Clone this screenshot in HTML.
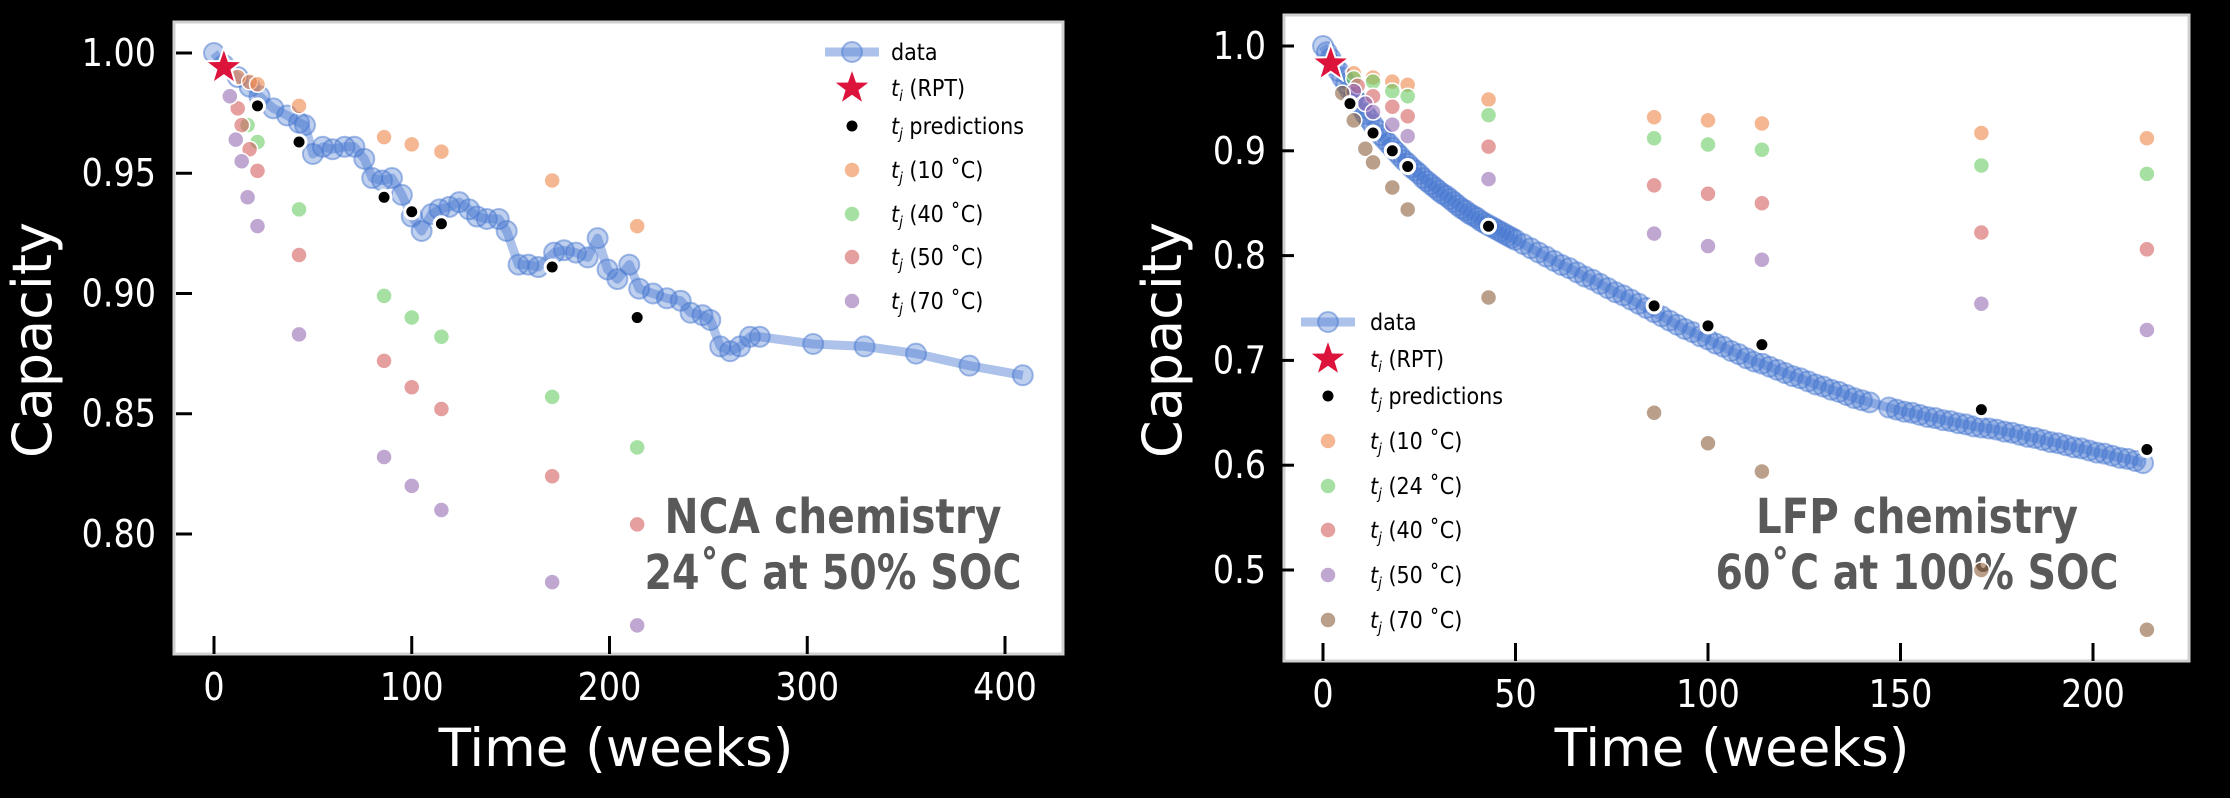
<!DOCTYPE html>
<html><head><meta charset="utf-8"><style>
html,body{margin:0;padding:0;background:#000;}
svg{display:block;}
text{font-family:"DejaVu Sans","Liberation Sans",sans-serif;}
</style></head>
<body>
<svg id="fig" width="2230" height="798" viewBox="0 0 2230 798" xmlns="http://www.w3.org/2000/svg">
<rect width="2230" height="798" fill="#000"/>
</svg>
<script>
// ---------- NCA data ----------
const ncaWeeks=[0,5,12,18,23,30,37,43,46,50,55,60,66,71,76,80,85,90,95,100,105,110,114,119,124,129,133,138,144,148,154,159,164,172,177,183,189,194,199,204,210,215,222,229,236,241,247,251,256,261,266,271,276,303,329,355,382,409];
const ncaCap=[1.0,0.995,0.99,0.986,0.982,0.977,0.974,0.971,0.970,0.958,0.961,0.960,0.961,0.961,0.956,0.948,0.947,0.948,0.941,0.932,0.926,0.933,0.935,0.936,0.938,0.935,0.932,0.931,0.931,0.926,0.912,0.912,0.911,0.917,0.918,0.917,0.915,0.923,0.910,0.906,0.912,0.902,0.900,0.898,0.897,0.892,0.891,0.889,0.878,0.876,0.878,0.882,0.882,0.879,0.878,0.875,0.870,0.866];
const ncaPredW=[22,43,86,100,115,171,214];
const ncaPredV=[0.978,0.963,0.940,0.934,0.929,0.911,0.890];
const ncaStar=[5,0.994];
const nca10W=[12,18,22,43,86,100,115,171,214];
const nca10V=[0.990,0.988,0.987,0.978,0.965,0.962,0.959,0.947,0.928];
const nca40W=[17,22,43,86,100,115,171,214];
const nca40V=[0.970,0.963,0.935,0.899,0.890,0.882,0.857,0.836];
const nca50W=[12,14,18,22,43,86,100,115,171,214];
const nca50V=[0.977,0.970,0.960,0.951,0.916,0.872,0.861,0.852,0.824,0.804];
const nca70W=[8,11,14,17,22,43,86,100,115,171,214];
const nca70V=[0.982,0.964,0.955,0.940,0.928,0.883,0.832,0.820,0.810,0.780,0.762];
const ncaXTicks=[0,100,200,300,400];
const ncaYTicks=[0.80,0.85,0.90,0.95,1.00];
const ncaYLabels=["0.80","0.85","0.90","0.95","1.00"];

// ---------- LFP data ----------
const lfpWeeks=[0,1,2,3,4,5,6,7,8,9,10,11,12,13,14,15,16,17,18,19,20,21,22,23,24,25,26,27,28,29,30,31,32,33,34,35,36,37,38,39,40,41,42,43,44,45,46,47,48,49,50,52,54,56,58,60,62,64,66,68,70,72,74,76,78,80,82,84,86,88,90,92,94,96,98,100,102,104,106,108,110,112,114,116,118,120,122,124,126,128,130,132,134,136,138,140,142,147,149,151,153,155,157,159,161,163,165,167,169,171,173,175,177,179,181,183,185,187,189,191,193,195,197,199,201,203,205,207,209,211,213];
const lfpCap=[1.000,0.994,0.988,0.982,0.976,0.970,0.964,0.958,0.952,0.946,0.941,0.935,0.930,0.925,0.920,0.915,0.911,0.907,0.903,0.899,0.895,0.891,0.888,0.884,0.881,0.878,0.874,0.871,0.868,0.865,0.862,0.859,0.857,0.854,0.851,0.848,0.845,0.843,0.840,0.838,0.836,0.833,0.831,0.829,0.827,0.825,0.823,0.821,0.819,0.817,0.815,0.811,0.807,0.803,0.799,0.795,0.791,0.788,0.784,0.780,0.777,0.773,0.769,0.765,0.762,0.758,0.754,0.750,0.746,0.742,0.738,0.734,0.730,0.727,0.723,0.720,0.716,0.713,0.709,0.706,0.702,0.699,0.697,0.694,0.691,0.688,0.685,0.683,0.680,0.677,0.675,0.672,0.670,0.667,0.664,0.662,0.660,0.655,0.653,0.651,0.650,0.648,0.646,0.645,0.643,0.642,0.640,0.639,0.637,0.636,0.635,0.634,0.632,0.631,0.629,0.627,0.626,0.624,0.622,0.621,0.619,0.617,0.616,0.614,0.612,0.611,0.609,0.607,0.606,0.604,0.602];
const lfpPredW=[7,13,18,22,43,86,100,114,171,214];
const lfpPredV=[0.945,0.917,0.900,0.885,0.828,0.752,0.733,0.715,0.653,0.615];
const lfpStar=[2,0.983];
const lfp10W=[8,13,18,22,43,86,100,114,171,214];
const lfp10V=[0.974,0.970,0.966,0.963,0.949,0.932,0.929,0.926,0.917,0.912];
const lfp24W=[8,13,18,22,43,86,100,114,171,214];
const lfp24V=[0.969,0.966,0.957,0.952,0.934,0.912,0.906,0.901,0.886,0.878];
const lfp40W=[9,13,18,22,43,86,100,114,171,214];
const lfp40V=[0.962,0.952,0.942,0.933,0.904,0.867,0.859,0.850,0.822,0.806];
const lfp50W=[8,11,13,18,22,43,86,100,114,171,214];
const lfp50V=[0.957,0.945,0.937,0.925,0.914,0.873,0.821,0.809,0.796,0.754,0.729];
const lfp70W=[5,8,11,13,18,22,43,86,100,114,171,214];
const lfp70V=[0.955,0.929,0.902,0.889,0.865,0.844,0.760,0.650,0.621,0.594,0.500,0.443];
const lfpXTicks=[0,50,100,150,200];
const lfpYTicks=[0.5,0.6,0.7,0.8,0.9,1.0];
const lfpYLabels=["0.5","0.6","0.7","0.8","0.9","1.0"];

const C={blue:"#4878d0",orange:"#ee854a",green:"#6acc64",red:"#d65f5f",purple:"#956cb4",brown:"#8c613c",star:"#dc143c"};
const NS="http://www.w3.org/2000/svg";
const svg=document.getElementById('fig');
function mk(tag,attrs,parent){const e=document.createElementNS(NS,tag);for(const k in attrs)e.setAttribute(k,attrs[k]);(parent||svg).appendChild(e);return e;}
function starPts(cx,cy,R){const r=R*0.4;let p=[];for(let i=0;i<10;i++){const a=-Math.PI/2+i*Math.PI/5;const rr=i%2?r:R;p.push((cx+rr*Math.cos(a)).toFixed(1)+","+(cy+rr*Math.sin(a)).toFixed(1));}return p.join(" ");}

function drawPanel(cfg){
  const g=mk('g',{});
  
  
  const sx=w=>cfg.x0+(w-cfg.xd[0])/(cfg.xd[1]-cfg.xd[0])*(cfg.x1-cfg.x0);
  const sy=v=>cfg.y0+(v-cfg.yd[0])/(cfg.yd[1]-cfg.yd[0])*(cfg.y1-cfg.y0);
  const bg=mk('rect',{x:cfg.box[0],y:cfg.box[1],width:cfg.box[2]-cfg.box[0],height:cfg.box[3]-cfg.box[1],fill:"#fff",stroke:"#d0d0d0","stroke-width":3},g);
  
  
  cfg.xt.forEach(t=>{
    const x=sx(t);
    const l=mk('line',{x1:x,x2:x,y1:cfg.box[3],y2:cfg.box[3]-18,stroke:"#000","stroke-width":3},g);
    
    
    const tx=mk('text',{x:x,y:cfg.box[3]+46,"text-anchor":"middle","font-size":38,fill:"#fff",transform:`translate(${x},0) scale(0.88,1) translate(${-x},0)`},g);
    tx.textContent=t;
    
    
  });
  cfg.yt.forEach((t,i)=>{
    const y=sy(t);
    const l=mk('line',{x1:cfg.box[0]+cfg.ytOff,x2:cfg.box[0]+cfg.ytOff+16,y1:y,y2:y,stroke:"#000","stroke-width":3},g);
    
    
    const xr=cfg.box[0]-18;
    const tx=mk('text',{x:xr,y:y+13,"text-anchor":"end","font-size":38,fill:"#fff",transform:`translate(${xr},0) scale(0.88,1) translate(${-xr},0)`},g);
    tx.textContent=cfg.yl[i];
    
    
  });
  const xt=mk('text',{x:cfg.xtitle[0],y:cfg.xtitle[1],"text-anchor":"middle","font-size":53,fill:"#fff"},g);
  xt.textContent="Time (weeks)";
  
  
  const yt=mk('text',{x:0,y:0,"text-anchor":"middle","font-size":54,fill:"#fff",transform:`translate(${cfg.ytitle[0]+19},${cfg.ytitle[1]}) rotate(-90)`},g);
  yt.textContent="Capacity";
  
  
  cfg.ann.forEach((a,i)=>{
    const t=mk('text',{x:a.x,y:a.y,"text-anchor":"middle","font-size":48,"font-weight":"bold",fill:"#595959",textLength:a.w,lengthAdjust:"spacingAndGlyphs","font-family":"'Liberation Sans Narrow','Liberation Sans',sans-serif"},g);
    t.textContent=a.t;
    
    
  });
  const pts=cfg.dw.map((w,i)=>sx(w).toFixed(1)+","+sy(cfg.dv[i]).toFixed(1)).join(" ");
  const pl=mk('polyline',{points:pts,fill:"none",stroke:C.blue,"stroke-opacity":0.45,"stroke-width":9,"stroke-linejoin":"round"},g);
  
  
  cfg.dw.forEach((w,i)=>{
    const c=mk('circle',{cx:sx(w),cy:sy(cfg.dv[i]),r:10,fill:C.blue,"fill-opacity":0.35,stroke:C.blue,"stroke-opacity":0.5,"stroke-width":2},g);
    
    
  });
  cfg.series.forEach(s=>{
    s.w.forEach((w,i)=>{
      const c=mk('circle',{cx:sx(w),cy:sy(s.v[i]),r:8,fill:s.c,"fill-opacity":0.6,stroke:"#fff","stroke-width":1.5},g);
      
      
    });
  });
  cfg.pw.forEach((w,i)=>{
    const c=mk('circle',{cx:sx(w),cy:sy(cfg.pv[i]),r:7,fill:"#000",stroke:"#fff","stroke-width":3},g);
    
    
  });
  const st=mk('polygon',{points:starPts(sx(cfg.star[0]),sy(cfg.star[1]),20),fill:C.star,stroke:"#fff","stroke-width":2},g);
  
  
  const L=cfg.leg;
  const lg=mk('g',{},g);
  
  
  const entries=[{k:'data'},{k:'star'},{k:'pred'}].concat(cfg.series.map(s=>({k:'dot',c:s.c,lab:s.lab})));
  entries.forEach((e,i)=>{
    const y=L.ys[i];
    if(e.k==='data'){
      mk('line',{x1:L.mx-27,x2:L.mx+27,y1:y,y2:y,stroke:C.blue,"stroke-opacity":0.45,"stroke-width":9},lg);
      mk('circle',{cx:L.mx,cy:y,r:10,fill:C.blue,"fill-opacity":0.35,stroke:C.blue,"stroke-opacity":0.5,"stroke-width":2},lg);
    }else if(e.k==='star'){
      mk('polygon',{points:starPts(L.mx,y,20),fill:C.star,stroke:"#fff","stroke-width":2},lg);
    }else if(e.k==='pred'){
      mk('circle',{cx:L.mx,cy:y,r:7,fill:"#000",stroke:"#fff","stroke-width":3},lg);
    }else{
      mk('circle',{cx:L.mx,cy:y,r:8,fill:e.c,"fill-opacity":0.6,stroke:"#fff","stroke-width":1.5},lg);
    }
    const t=mk('text',{x:L.tx,y:y+8,"font-size":23,fill:"#000",transform:`translate(${L.tx},0) scale(0.9,1) translate(${-L.tx},0)`},lg);
    
    
    if(e.k==='data'){t.textContent='data';}
    else{
      const sub=e.k==='star'?'i':'j';
      const rest=e.k==='star'?' (RPT)':e.k==='pred'?' predictions':' ('+e.lab+' \u02daC)';
      t.innerHTML=`<tspan font-style="italic">t</tspan><tspan font-style="italic" font-size="15" dy="5">${sub}</tspan><tspan dy="-5">${rest}</tspan>`;
    }
  });
}

drawPanel({name:'nca-chart',box:[174,22,1063,654],x0:214,x1:1005,xd:[0,400],y0:53,y1:534,yd:[1.0,0.8],
  xt:ncaXTicks,yt:ncaYTicks,yl:ncaYLabels,ytOff:2,xtitle:[616,766],ytitle:[32,340],
  ann:[{t:'NCA chemistry',x:833,y:533,w:337},{t:'24\u02daC at 50% SOC',x:833,y:589,w:377}],
  dw:ncaWeeks,dv:ncaCap,pw:ncaPredW,pv:ncaPredV,star:ncaStar,
  series:[{name:'series-10c',c:C.orange,w:nca10W,v:nca10V,lab:'10'},{name:'series-40c',c:C.green,w:nca40W,v:nca40V,lab:'40'},{name:'series-50c',c:C.red,w:nca50W,v:nca50V,lab:'50'},{name:'series-70c',c:C.purple,w:nca70W,v:nca70V,lab:'70'}],
  leg:{mx:852,tx:891,ys:[52,88,126,170,214,257,301]}});

drawPanel({name:'lfp-chart',box:[1284,15,2189,661],x0:1323,x1:2093,xd:[0,200],y0:46,y1:570,yd:[1.0,0.5],
  xt:lfpXTicks,yt:lfpYTicks,yl:lfpYLabels,ytOff:-6,xtitle:[1732,766],ytitle:[1162,340],
  ann:[{t:'LFP chemistry',x:1917,y:533,w:322},{t:'60\u02daC at 100% SOC',x:1917,y:589,w:403}],
  dw:lfpWeeks,dv:lfpCap,pw:lfpPredW,pv:lfpPredV,star:lfpStar,
  series:[{name:'series-10c',c:C.orange,w:lfp10W,v:lfp10V,lab:'10'},{name:'series-24c',c:C.green,w:lfp24W,v:lfp24V,lab:'24'},{name:'series-40c',c:C.red,w:lfp40W,v:lfp40V,lab:'40'},{name:'series-50c',c:C.purple,w:lfp50W,v:lfp50V,lab:'50'},{name:'series-70c',c:C.brown,w:lfp70W,v:lfp70V,lab:'70'}],
  leg:{mx:1328,tx:1370,ys:[322,359,396,441,486,530,575,620]}});
</script>
</body></html>
